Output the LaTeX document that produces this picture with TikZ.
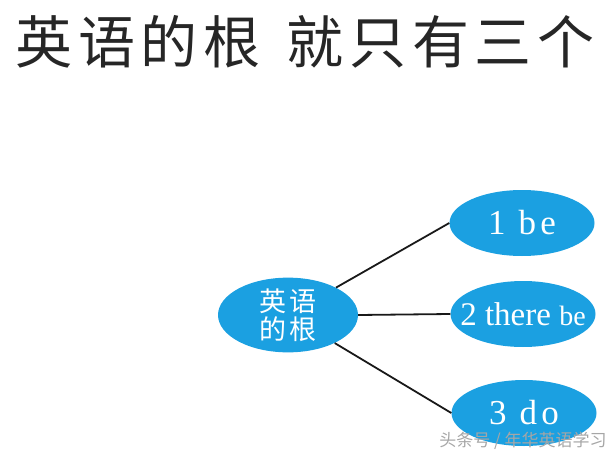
\documentclass[tikz,border=0pt]{standalone}
\usepackage{fontspec}
\usetikzlibrary{shapes.geometric}
\setmainfont{Liberation Serif}
\newfontfamily\cjk{Noto Sans CJK SC}
\newfontfamily\cjktitle[LetterSpace=10]{Noto Sans CJK SC}
\newfontfamily\latinwide[LetterSpace=12]{Liberation Serif}
\definecolor{rootblue}{RGB}{27,160,225}

\begin{document}
\begin{tikzpicture}[x=1pt, y=-1pt,
  branch/.style={ellipse, fill=rootblue, text=white, inner sep=0pt,
    minimum width=145pt, minimum height=66pt},
  link/.style={black!90, line width=1.8pt}]
  \useasboundingbox (0,0) rectangle (616,460);
  % heading
  \node[text=black!85] (title) at (305,42)
    {\cjktitle\fontsize{57}{60}\selectfont 英语的根\hspace{26pt}就只有三个};
  % the root and its three branches
  \node[branch, minimum width=140pt, minimum height=70pt, align=center,
    font={\cjktitle\fontsize{27}{28}\selectfont}] (root) at (288,315) {英语\\的根};
  \node[branch] (be) at (522,223)
    {\makebox[0pt]{\latinwide\fontsize{35}{36}\selectfont 1 be}};
  \node[branch] (there) at (523,314)
    {\makebox[0pt]{\fontsize{33}{34}\selectfont 2 there {\fontsize{28}{30}\selectfont be}}};
  \node[branch] (do) at (524,413)
    {\makebox[0pt]{\latinwide\fontsize{35}{36}\selectfont 3 do}};
  \draw[link] (root) -- (be.west);
  \draw[link] (root.east) -- (there.west);
  \draw[link] (root) -- (do.west);
  % source mark
  \node[text=black!35] (mark) at (523,441)
    {\cjk\fontsize{17}{18}\selectfont 头条号 / 年华英语学习};
\end{tikzpicture}
\end{document}
